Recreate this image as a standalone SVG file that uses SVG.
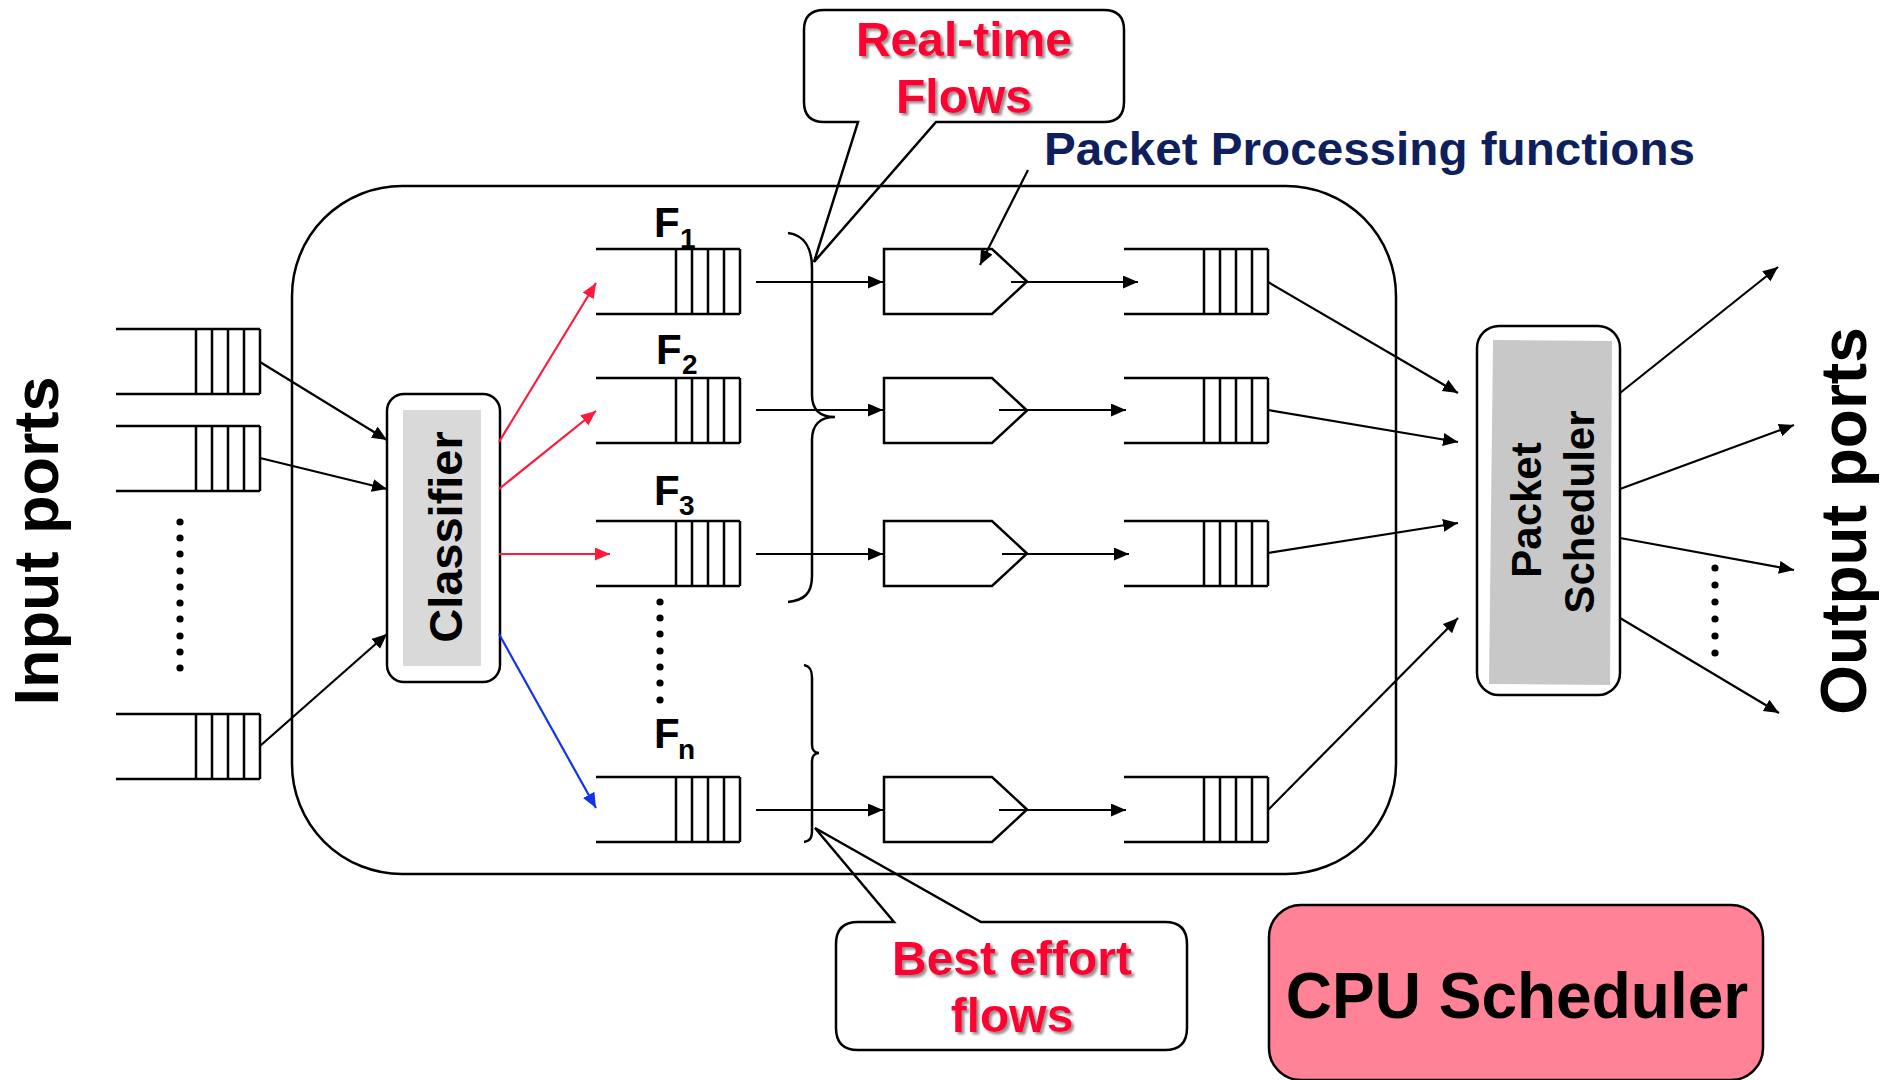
<svg xmlns="http://www.w3.org/2000/svg" xmlns:xlink="http://www.w3.org/1999/xlink" width="1895" height="1080" viewBox="0 0 1895 1080">
<style>
.ln{stroke:#000;stroke-width:2.5;fill:none}
.ar{stroke:#000;stroke-width:2.2;fill:none;marker-end:url(#ah)}
.red{stroke:#ff1a3c;stroke-width:2.2;fill:none;marker-end:url(#ahr)}
.blue{stroke:#1133ee;stroke-width:2.2;fill:none;marker-end:url(#ahb)}
.t{font-family:"Liberation Sans",Arial,sans-serif;font-weight:bold}
.rt{fill:#ff0033;filter:url(#sh)}
.dot{fill:#000}
</style>
<defs>
<marker id="ah" markerUnits="userSpaceOnUse" markerWidth="16" markerHeight="14" refX="15" refY="6.5" orient="auto"><path d="M0,0 L15,6.5 L0,13 z" fill="#000"/></marker>
<marker id="ahr" markerUnits="userSpaceOnUse" markerWidth="16" markerHeight="14" refX="15" refY="6.5" orient="auto"><path d="M0,0 L15,6.5 L0,13 z" fill="#ff1a3c"/></marker>
<marker id="ahb" markerUnits="userSpaceOnUse" markerWidth="16" markerHeight="14" refX="15" refY="6.5" orient="auto"><path d="M0,0 L15,6.5 L0,13 z" fill="#1133ee"/></marker>
<filter id="sh" x="-10%" y="-10%" width="130%" height="140%"><feDropShadow dx="2.5" dy="2.5" stdDeviation="1.2" flood-color="#777" flood-opacity="0.8"/></filter>
<g id="queue"><path class="ln" d="M0,0 H144 M0,65 H144 M80,0 V65 M96,0 V65 M112,0 V65 M128,0 V65 M144,0 V65"/></g>
<path id="ppf" class="ln" d="M0,0 H108 L143,32.5 L108,65 H0 Z" fill="#fff"/>
</defs>
<rect width="1895" height="1080" fill="#fff"/>

<!-- callouts -->
<g id="callout-realtime">
<path class="ln" fill="#fff" d="M824,10 H1104 Q1124,10 1124,30 V102 Q1124,122 1104,122 H936 L814,262 L858,122 H824 Q804,122 804,102 V30 Q804,10 824,10 Z"/>
<text class="t rt" x="964" y="56" font-size="48" text-anchor="middle">Real-time</text>
<text class="t rt" x="964" y="113" font-size="48" text-anchor="middle">Flows</text>
</g>
<g id="callout-besteffort">
<path class="ln" fill="#fff" d="M858,922 H894 L815,828 L981,922 H1165 Q1187,922 1187,944 V1028 Q1187,1050 1165,1050 H858 Q836,1050 836,1028 V944 Q836,922 858,922 Z"/>
<text class="t rt" x="1012" y="975" font-size="48" text-anchor="middle">Best effort</text>
<text class="t rt" x="1012" y="1032" font-size="48" text-anchor="middle">flows</text>
</g>

<!-- router enclosure -->
<g id="router"><rect class="ln" x="292" y="186" width="1104" height="688" rx="110" ry="110"/></g>

<g id="input-ports">
<text class="t" transform="translate(58,541) rotate(-90)" font-size="63" text-anchor="middle">Input ports</text>
<use xlink:href="#queue" x="116" y="329"/>
<use xlink:href="#queue" x="116" y="426"/>
<use xlink:href="#queue" x="116" y="714"/>
<g class="dot"><circle cx="180" cy="522" r="3.6"/><circle cx="180" cy="538" r="3.6"/><circle cx="180" cy="554" r="3.6"/><circle cx="180" cy="571" r="3.6"/><circle cx="180" cy="587" r="3.6"/><circle cx="180" cy="603" r="3.6"/><circle cx="180" cy="619" r="3.6"/><circle cx="180" cy="636" r="3.6"/><circle cx="180" cy="652" r="3.6"/><circle cx="180" cy="668" r="3.6"/></g>
</g>

<g id="classifier">
<rect class="ln" x="387" y="394" width="113" height="288" rx="17" fill="#fff"/>
<rect x="403" y="410" width="78" height="256" fill="#d9d9d9"/>
<text class="t" transform="translate(462,537) rotate(-90)" font-size="47" text-anchor="middle">Classifier</text>
</g>

<g id="flow-queues">
<use xlink:href="#queue" x="596" y="249"/>
<use xlink:href="#queue" x="596" y="378"/>
<use xlink:href="#queue" x="596" y="521"/>
<use xlink:href="#queue" x="596" y="777"/>
<text class="t" x="654" y="237" font-size="42">F</text><text class="t" x="680" y="248" font-size="28">1</text>
<text class="t" x="656" y="364" font-size="42">F</text><text class="t" x="682" y="374" font-size="28">2</text>
<text class="t" x="654" y="505" font-size="42">F</text><text class="t" x="679" y="515" font-size="28">3</text>
<text class="t" x="654" y="748" font-size="42">F</text><text class="t" x="678" y="759" font-size="28">n</text>
<g class="dot"><circle cx="660" cy="602" r="3.6"/><circle cx="660" cy="618" r="3.6"/><circle cx="660" cy="634" r="3.6"/><circle cx="660" cy="651" r="3.6"/><circle cx="660" cy="667" r="3.6"/><circle cx="660" cy="683" r="3.6"/><circle cx="660" cy="700" r="3.6"/></g>
</g>

<g id="braces">
<path class="ln" d="M788,233 C804,235 812,248 812,268 L812,395 C812,410 820,417 835,417 C820,417 812,425 812,440 L812,576 C812,594 804,600 788,602"/>
<path class="ln" d="M804,665 C810,666 812,670 812,678 L812,745 C812,750 815,753 819,753 C815,753 812,756 812,761 L812,830 C812,838 810,841 804,842"/>
</g>

<g id="ppf-functions">
<use xlink:href="#ppf" x="884" y="249"/>
<use xlink:href="#ppf" x="884" y="378"/>
<use xlink:href="#ppf" x="884" y="521"/>
<use xlink:href="#ppf" x="884" y="777"/>
<text class="t" x="1044" y="165" font-size="47" fill="#0f1f5c" textLength="651" lengthAdjust="spacingAndGlyphs">Packet Processing functions</text>
</g>

<g id="output-queues">
<use xlink:href="#queue" x="1124" y="249"/>
<use xlink:href="#queue" x="1124" y="378"/>
<use xlink:href="#queue" x="1124" y="521"/>
<use xlink:href="#queue" x="1124" y="777"/>
</g>

<g id="packet-scheduler">
<rect class="ln" x="1477" y="326" width="143" height="369" rx="22" fill="#fff"/>
<path d="M1493,340 L1612,341 L1610,685 L1489,684 Z" fill="#c8c8c8"/>
<text class="t" transform="translate(1541,510) rotate(-90)" font-size="42" text-anchor="middle">Packet</text>
<text class="t" transform="translate(1594,512) rotate(-90)" font-size="42" text-anchor="middle">Scheduler</text>
</g>

<g id="output-ports">
<text class="t" transform="translate(1866,521) rotate(-90)" font-size="64" text-anchor="middle">Output ports</text>
<g class="dot"><circle cx="1715" cy="568" r="3.6"/><circle cx="1715" cy="585" r="3.6"/><circle cx="1715" cy="602" r="3.6"/><circle cx="1715" cy="619" r="3.6"/><circle cx="1715" cy="636" r="3.6"/><circle cx="1715" cy="653" r="3.6"/></g>
</g>

<g id="cpu-scheduler">
<rect x="1269" y="905" width="494" height="175" rx="32" fill="#ff8296" stroke="#000" stroke-width="2.5"/>
<text class="t" x="1517" y="1018" font-size="64" text-anchor="middle">CPU Scheduler</text>
</g>

<g id="connectors">
<line class="ar" x1="260" y1="362" x2="387" y2="440"/>
<line class="ar" x1="260" y1="458" x2="387" y2="489"/>
<line class="ar" x1="260" y1="746" x2="387" y2="634"/>
<line class="red" x1="499" y1="442" x2="596" y2="283"/>
<line class="red" x1="499" y1="489" x2="596" y2="411"/>
<line class="red" x1="499" y1="554" x2="610" y2="554"/>
<line class="blue" x1="499" y1="634" x2="596" y2="808"/>
<line class="ar" x1="756" y1="282" x2="883" y2="282"/>
<line class="ar" x1="756" y1="410" x2="883" y2="410"/>
<line class="ar" x1="756" y1="554" x2="883" y2="554"/>
<line class="ar" x1="756" y1="810" x2="883" y2="810"/>
<line class="ar" x1="1011" y1="282" x2="1138" y2="282"/>
<line class="ar" x1="999" y1="410" x2="1126" y2="410"/>
<line class="ar" x1="1002" y1="554" x2="1129" y2="554"/>
<line class="ar" x1="999" y1="810" x2="1126" y2="810"/>
<line class="ar" x1="1268" y1="282" x2="1458" y2="393"/>
<line class="ar" x1="1268" y1="410" x2="1458" y2="442"/>
<line class="ar" x1="1268" y1="553" x2="1458" y2="523"/>
<line class="ar" x1="1268" y1="810" x2="1458" y2="618"/>
<line class="ar" x1="1620" y1="393" x2="1778" y2="267"/>
<line class="ar" x1="1620" y1="489" x2="1794" y2="425"/>
<line class="ar" x1="1620" y1="538" x2="1794" y2="570"/>
<line class="ar" x1="1620" y1="618" x2="1779" y2="713"/>
<line class="ar" x1="1028" y1="170" x2="980" y2="265"/>
</g>
</svg>
